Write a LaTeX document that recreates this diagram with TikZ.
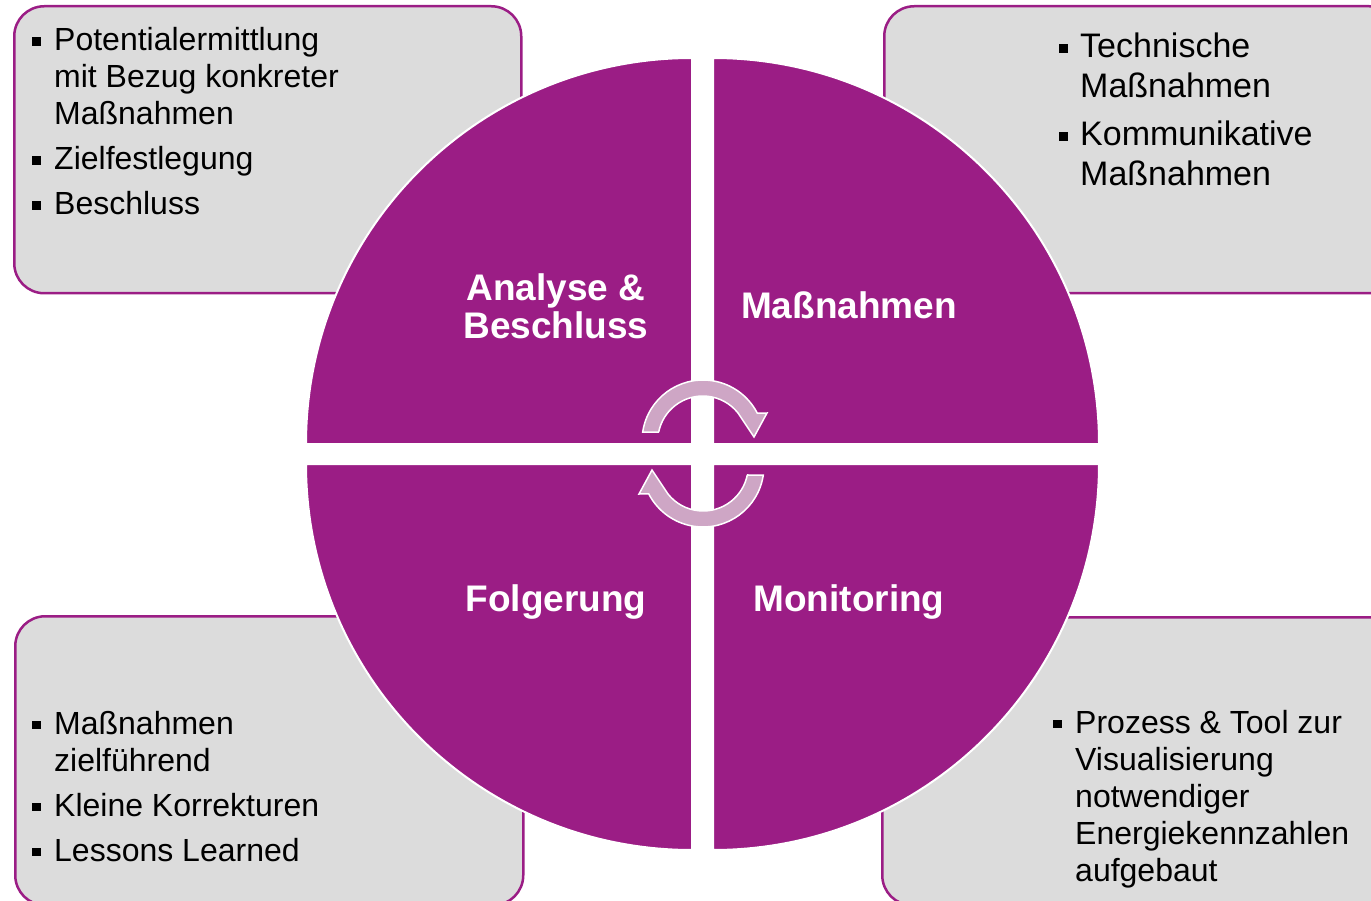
\documentclass[tikz,border=0pt]{standalone}
\usepackage{fontspec}
\setmainfont{Liberation Sans}

\definecolor{cyclepurple}{RGB}{155,29,133}
\definecolor{boxgray}{RGB}{220,220,220}
\definecolor{arrowmauve}{RGB}{206,166,197}

% square bullet followed by the hanging indent of the list text
\newcommand\sqbullet[1][22pt]{\makebox[#1][l]{\raisebox{5pt}{\rule{8.5pt}{8.5pt}}}}

\tikzset{
  infobox/.style={fill=boxgray, draw=cyclepurple, line width=2.5pt,
    rounded corners=30pt, anchor=north west, inner sep=0pt},
  quadrant/.style={fill=cyclepurple, draw=white, line width=2pt},
  phase/.style={text=white, font=\fontsize{37}{39}\selectfont\bfseries,
    align=center, inner sep=0pt},
  itemtext/.style={font=\fontsize{32}{37}\selectfont, align=left,
    inner sep=0pt, anchor=base west},
  turnarrow/.style={fill=arrowmauve, draw=white, line width=1.5pt, line join=miter},
}

\begin{document}
\begin{tikzpicture}[x=1pt,y=-1pt]
\useasboundingbox (0,0) rectangle (1371,901);
\clip (0,0) rectangle (1371,901);

% corner boxes
\node[infobox, minimum width=507pt, minimum height=287pt] (boxTL) at (13,5) {};
\node[infobox, minimum width=515pt, minimum height=287pt] (boxTR) at (883,5) {};
\node[infobox, minimum width=508pt, minimum height=289pt] (boxBL) at (14,615) {};
\node[infobox, minimum width=517pt, minimum height=288pt] (boxBR) at (881,616) {};

% four quarter discs of the cycle
\path[quadrant] (692,444) -- (306,444) arc[start angle=180, end angle=90, radius=386pt] -- cycle;
\path[quadrant] (713,444) -- (713,58) arc[start angle=90, end angle=0, radius=386pt] -- cycle;
\path[quadrant] (692,464) -- (306,464) arc[start angle=180, end angle=270, radius=386pt] -- cycle;
\path[quadrant] (713,464) -- (1099,464) arc[start angle=0, end angle=-90, radius=386pt] -- cycle;

% circular arrows in the middle
\path[turnarrow] (658.9,432) -- (642.7,432)
  arc[start angle=171.5, end angle=27.3, radius=61pt]
  -- (767,413) -- (754,437) -- (738,413)
  arc[start angle=38.5, end angle=168.5, radius=45pt] -- cycle;
\begin{scope}[rotate around={180:(703,453.5)}]
\path[turnarrow] (658.9,432) -- (642.7,432)
  arc[start angle=171.5, end angle=27.3, radius=61pt]
  -- (767,413) -- (754,437) -- (738,413)
  arc[start angle=38.5, end angle=168.5, radius=45pt] -- cycle;
\end{scope}

% phase labels (base anchor sits on the last line)
\node[phase, anchor=base] (analyse) at (556,339) {Analyse \&\\Beschluss};
\node[phase, anchor=base] (massnahmen) at (849,319) {Maßnahmen};
\node[phase, anchor=base] (folgerung) at (556,611) {Folgerung};
\node[phase, anchor=base] (monitoring) at (849,611) {Monitoring};

% box contents, placed by the baseline of their last line
\node[itemtext] (textTL) at (32,215) {\sqbullet Potentialermittlung\\
  \hspace*{22pt}mit Bezug konkreter\\
  \hspace*{22pt}Maßnahmen\\[8pt]
  \sqbullet Zielfestlegung\\[8pt]
  \sqbullet Beschluss};
\node[itemtext, font=\fontsize{34}{40}\selectfont] (textTR) at (1059,186) {\sqbullet[21pt]Technische\\
  \hspace*{21pt}Maßnahmen\\[8pt]
  \sqbullet[21pt]Kommunikative\\
  \hspace*{21pt}Maßnahmen};
\node[itemtext] (textBL) at (32,861) {\sqbullet Maßnahmen\\
  \hspace*{22pt}zielführend\\[8pt]
  \sqbullet Kleine Korrekturen\\[8pt]
  \sqbullet Lessons Learned};
\node[itemtext] (textBR) at (1053,881) {\sqbullet Prozess \& Tool zur\\
  \hspace*{22pt}Visualisierung\\
  \hspace*{22pt}notwendiger\\
  \hspace*{22pt}Energiekennzahlen\\
  \hspace*{22pt}aufgebaut};
\end{tikzpicture}
\end{document}
